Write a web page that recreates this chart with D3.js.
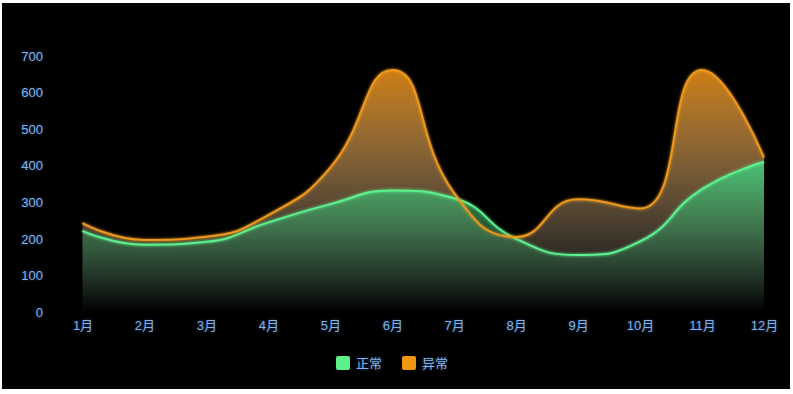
<!DOCTYPE html>
<html>
<head>
<meta charset="utf-8">
<script src="https://cdn.jsdelivr.net/npm/d3@7/dist/d3.min.js"></script>
<style>
  html, body { margin: 0; padding: 0; background: #fff; }
  svg text { font-family: "Liberation Sans", "Noto Sans CJK SC", sans-serif; }
  .lbl { fill: #84b4e6; font-size: 13px; text-shadow: 0 0 3px rgba(60,130,230,0.55); }
</style>
</head>
<body>
<svg id="chart" width="793" height="394"></svg>
<script>
var months = ["1月", "2月", "3月", "4月", "5月", "6月", "7月", "8月", "9月", "10月", "11月", "12月"];
var normal = [222, 184, 192, 245, 295, 332, 311, 200, 156, 193, 336, 410];
var abnormal = [243, 197, 206, 265, 395, 662, 325, 205, 308, 283, 662, 422];
var yTicks = [0, 100, 200, 300, 400, 500, 600, 700];
var seriesNames = ["正常", "异常"];

// smooth curve like echarts "smooth: true" (0.5, control points clamped)
function smoothCurve(context) {
  return {
    _line: NaN,
    areaStart: function() { this._line = 0; },
    areaEnd: function() { this._line = NaN; },
    lineStart: function() { this._pts = []; },
    point: function(x, y) { this._pts.push([+x, +y]); },
    lineEnd: function() {
      var p = this._pts, n = p.length, s = 0.5;
      if (n) {
        if (this._line) context.lineTo(p[0][0], p[0][1]);
        else context.moveTo(p[0][0], p[0][1]);
        var cx = p[0][0], cy = p[0][1];
        for (var i = 1; i < n; i++) {
          var x = p[i][0], y = p[i][1], inx = x, iny = y, ox = x, oy = y;
          if (i < n - 1) {
            var px = p[i - 1][0], py = p[i - 1][1], nx = p[i + 1][0], ny = p[i + 1][1];
            var d0 = Math.hypot(x - px, y - py), d1 = Math.hypot(nx - x, ny - y);
            if (d0 > 0 && d1 > 0) {
              var r = d1 / (d0 + d1);
              var vx = nx - px, vy = ny - py;
              ox = x + vx * s * r; oy = y + vy * s * r;
              ox = Math.min(Math.max(ox, Math.min(nx, x)), Math.max(nx, x));
              oy = Math.min(Math.max(oy, Math.min(ny, y)), Math.max(ny, y));
              vx = ox - x; vy = oy - y;
              inx = x - vx * d0 / d1; iny = y - vy * d0 / d1;
              inx = Math.min(Math.max(inx, Math.min(px, x)), Math.max(px, x));
              iny = Math.min(Math.max(iny, Math.min(py, y)), Math.max(py, y));
              vx = x - inx; vy = y - iny;
              ox = x + vx * d1 / d0; oy = y + vy * d1 / d0;
            }
          }
          context.bezierCurveTo(cx, cy, inx, iny, x, y);
          cx = ox; cy = oy;
        }
      }
      if (this._line || (this._line !== 0 && n === 1)) context.closePath();
      this._line = 1 - this._line;
    }
  };
}

var svg = d3.select("#chart");

svg.append("rect")
    .attr("x", 2).attr("y", 3)
    .attr("width", 788).attr("height", 386)
    .attr("fill", "#000");

var x = d3.scalePoint().domain(months).range([82.5, 764]);
var y = d3.scaleLinear().domain([0, 700]).range([312, 56]);

var defs = svg.append("defs");

var gAb = defs.append("linearGradient").attr("id", "gradAb")
    .attr("gradientUnits", "userSpaceOnUse")
    .attr("x1", 0).attr("x2", 0)
    .attr("y1", y(d3.max(abnormal))).attr("y2", y(0));
gAb.append("stop").attr("offset", 0).attr("stop-color", "rgb(205,125,20)").attr("stop-opacity", 1);
gAb.append("stop").attr("offset", 1).attr("stop-color", "rgb(200,195,190)").attr("stop-opacity", 0);

var gNo = defs.append("linearGradient").attr("id", "gradNo")
    .attr("gradientUnits", "userSpaceOnUse")
    .attr("x1", 0).attr("x2", 0)
    .attr("y1", y(d3.max(normal))).attr("y2", y(0));
gNo.append("stop").attr("offset", 0).attr("stop-color", "rgb(66,200,122)").attr("stop-opacity", 0.92);
gNo.append("stop").attr("offset", 1).attr("stop-color", "rgb(40,120,80)").attr("stop-opacity", 0);

var glow = defs.append("filter").attr("id", "glow")
    .attr("x", "-5%").attr("y", "-20%").attr("width", "110%").attr("height", "140%");
glow.append("feGaussianBlur").attr("in", "SourceGraphic").attr("stdDeviation", 1.5).attr("result", "b");
var merge = glow.append("feMerge");
merge.append("feMergeNode").attr("in", "b");
merge.append("feMergeNode").attr("in", "SourceGraphic");

var area = function(vals) {
  return d3.area()
      .x(function(d, i) { return x(months[i]); })
      .y0(y(0))
      .y1(function(d) { return y(d); })
      .curve(smoothCurve)(vals);
};
var line = function(vals) {
  return d3.line()
      .x(function(d, i) { return x(months[i]); })
      .y(function(d) { return y(d); })
      .curve(smoothCurve)(vals);
};

svg.append("path").attr("d", area(abnormal)).attr("fill", "url(#gradAb)");
svg.append("path").attr("d", area(normal)).attr("fill", "url(#gradNo)");
svg.append("path").attr("d", line(normal))
    .attr("fill", "none").attr("stroke", "#5df08f").attr("stroke-width", 2)
    .attr("filter", "url(#glow)");
svg.append("path").attr("d", line(abnormal))
    .attr("fill", "none").attr("stroke", "#ec981c").attr("stroke-width", 2)
    .attr("filter", "url(#glow)");

// y axis labels
var yAxis = svg.append("g")
    .attr("transform", "translate(43,0)")
    .call(d3.axisLeft(y).tickValues(yTicks).tickSize(0).tickPadding(0));
yAxis.select(".domain").remove();
yAxis.selectAll("text").attr("class", "lbl").attr("fill", null).style("font-size", "13px");

// x axis labels
var xAxis = svg.append("g")
    .attr("transform", "translate(0,321)")
    .call(d3.axisBottom(x).tickSize(0).tickPadding(0));
xAxis.select(".domain").remove();
xAxis.selectAll("text").attr("class", "lbl").attr("fill", null).style("font-size", "13px");

// legend
var legendColors = ["#5cf08a", "#f0960f"];
var legendX = [336, 402];
var legend = svg.selectAll(".legend")
    .data(seriesNames)
    .enter().append("g")
    .attr("class", "legend")
    .attr("transform", function(d, i) { return "translate(" + legendX[i] + ",356)"; });
legend.append("rect")
    .attr("width", 14).attr("height", 14).attr("rx", 2)
    .attr("fill", function(d, i) { return legendColors[i]; });
legend.append("text")
    .attr("class", "lbl")
    .attr("x", 20).attr("y", 7).attr("dy", "0.35em")
    .text(function(d) { return d; });
</script>
</body>
</html>
